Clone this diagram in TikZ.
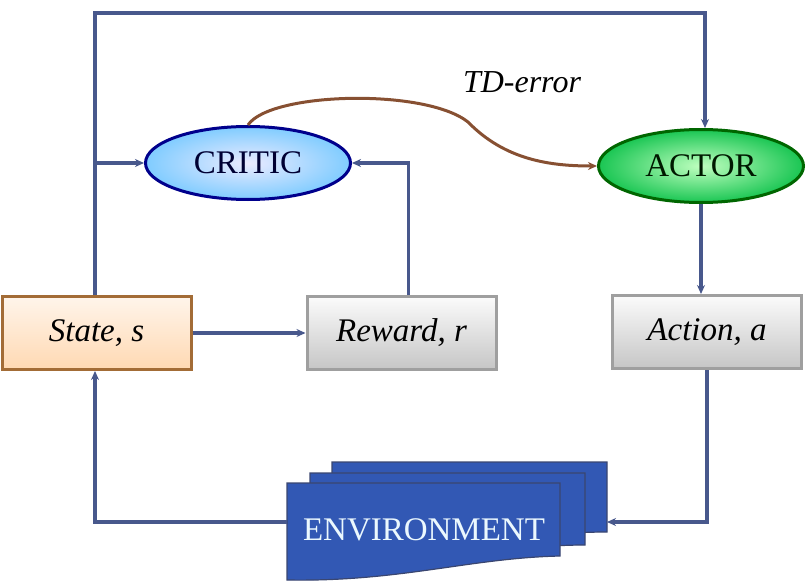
\documentclass[tikz,border=0pt]{standalone}
\usepackage{fontspec}
\setmainfont{Liberation Serif}
\usetikzlibrary{shapes.geometric,arrows.meta}
\definecolor{linkblue}{RGB}{72,88,140}
\definecolor{tdbrown}{RGB}{135,80,50}
\definecolor{envblue}{RGB}{50,88,180}
\begin{document}
\begin{tikzpicture}[x=1pt, y=-1pt,
    conn/.style={color=linkblue, line width=3.4pt},
    tip/.style={-{Stealth[length=9pt,width=8pt]}},
    oval/.style={ellipse, line width=3pt, minimum width=205pt, minimum height=73pt, font=\fontsize{33}{36}\selectfont},
    greybox/.style={draw=gray!75, line width=3pt, top color=gray!3, bottom color=gray!45, minimum width=189pt, minimum height=73pt, font=\fontsize{33}{36}\selectfont\itshape},
    sheet/.style={draw=linkblue!80!black, line width=1.2pt, fill=envblue}]
    \useasboundingbox (0,0) rectangle (808,586);
    \node[oval, draw=blue!55!black, inner color=blue!8, outer color=blue!40!cyan!50, text=blue!20!black] (critic) at (248,163) {CRITIC};
    \node[oval, draw=green!40!black, inner color=green!25, outer color=green!50!teal!90, text=green!10!black] (actor) at (701,166) {ACTOR};
    \node[greybox, draw=brown!85!black, top color=orange!8, bottom color=orange!30] (state) at (96.5,333) {State, s};
    \node[greybox] (reward) at (401.5,333) {Reward, r};
    \node[greybox] (action) at (707,332) {Action, a};
    %\node at (424,530) {ENVIRONMENT};
    \draw[sheet] (332,462) -- (607,462) -- (607,532) .. controls (530,532) and (460,548) .. (380,550) -- (332,550) -- cycle;
    \draw[sheet] (310,473) -- (585,473) -- (585,545) .. controls (510,545) and (440,562) .. (360,564) -- (310,564) -- cycle;
    \draw[sheet] (287,483) -- (560,483) -- (560,556) .. controls (470,558) and (400,582) .. (287,580) -- cycle;
    \node[text=cyan!8, font=\fontsize{33}{36}\selectfont] (env) at (424,530) {ENVIRONMENT};
    \coordinate (topL) at (95,13);
    \coordinate (topR) at (705,13);
    \coordinate (envL) at (287,522);
    \coordinate (envR) at (607,522);
    \draw[conn, tip] (state.north -| topL) -- (topL) -- (topR) -- (topR |- actor.north);
    \draw[conn, tip] (topL |- critic.west) -- (critic.west);
    \draw[conn, tip] ([xshift=7pt]reward.north) |- (critic.east);
    \draw[conn, tip] (state.east) -- (reward.west);
    \draw[conn, tip] (actor.south) -- (actor.south |- action.north);
    \draw[conn, tip] (action.south) |- (envR);
    \draw[conn, tip] (envL) -| (state.south -| topL);
    \draw[color=tdbrown, line width=3pt, tip] (critic.north) .. controls (270,92) and (425,88) .. (468,122) .. controls (505,160) and (550,166) .. (actor.west);
    \node[font=\fontsize{32}{36}\selectfont\itshape] (td) at (522,82) {TD-error};
\end{tikzpicture}
\end{document}
